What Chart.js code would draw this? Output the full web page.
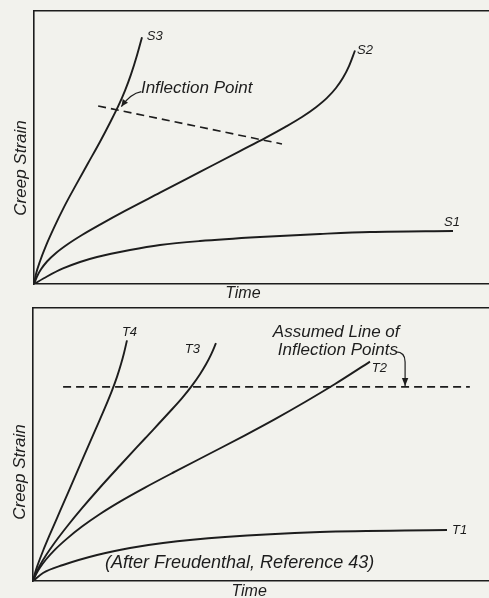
<!DOCTYPE html>
<html>
<head>
<meta charset="utf-8">
<script src="https://cdn.jsdelivr.net/npm/chart.js@4.4.1/dist/chart.umd.min.js"></script>
<style>
  html, body { margin: 0; padding: 0; background: #f2f2ed; }
  body { width: 489px; height: 598px; position: relative; overflow: hidden; }
  canvas { position: absolute; left: 0; }
  #c1 { top: 0; }
  #c2 { top: 298px; }
</style>
</head>
<body>
<canvas id="c1" width="489" height="298"></canvas>
<canvas id="c2" width="489" height="300"></canvas>
<script>
// ---- Upper panel: creep curves at three stress levels ----
const S1_TIME   = [0, 2.86, 6.37, 10.11, 13.85, 21.10, 27.69, 36.48, 49.67, 62.86, 73.85, 92.09];
const S1_STRAIN = [0, 2.75, 5.68, 8.06, 9.89, 12.45, 14.29, 15.75, 17.22, 18.32, 19.05, 19.41];

const S2_TIME   = [0, 0.66, 1.54, 2.86, 4.84, 7.47, 10.55, 14.51, 20.00, 27.69, 36.48, 45.27,
                   50.77, 55.16, 58.90, 61.98, 64.40, 66.37, 67.91, 69.23, 70.55];
const S2_STRAIN = [0, 2.75, 5.38, 8.24, 11.36, 14.65, 17.95, 21.76, 26.78, 33.44, 41.06, 48.68,
                   53.44, 57.47, 61.17, 64.76, 68.17, 71.79, 75.53, 79.82, 85.53];

const S3_TIME   = [0, 0.44, 1.32, 2.64, 4.40, 6.59, 9.23, 11.87, 14.51, 16.70, 18.46, 20.00,
                   21.32, 22.64, 23.74];
const S3_STRAIN = [0, 3.66, 8.35, 14.07, 20.66, 28.17, 36.30, 44.21, 52.12, 59.08, 64.94, 70.84,
                   76.78, 83.81, 90.40];

// locus of inflection points (dashed)
const S_INFLECT_TIME   = [14.1, 54.5];
const S_INFLECT_STRAIN = [65.2, 51.3];

// ---- Lower panel: creep curves at four temperatures ----
const T1_TIME   = [0, 2.19, 6.58, 14.04, 21.27, 28.51, 42.11, 62.94, 90.79];
const T1_STRAIN = [0, 2.93, 5.86, 9.52, 12.09, 13.92, 16.12, 17.95, 18.68];

const T2_TIME   = [0, 0.66, 1.54, 2.85, 4.82, 7.46, 10.75, 14.69, 19.08, 24.56, 31.14, 38.82,
                   46.49, 53.07, 59.65, 66.23, 73.90];
const T2_STRAIN = [0, 2.42, 4.91, 7.88, 11.50, 15.53, 19.93, 24.54, 29.08, 34.21, 40.04, 46.70,
                   53.37, 59.30, 65.57, 72.16, 80.37];

const T3_TIME   = [0, 0.66, 1.54, 2.85, 4.82, 7.46, 10.75, 14.69, 19.08, 24.56, 30.04, 32.68,
                   34.87, 36.62, 37.94, 39.04, 40.13];
const T3_STRAIN = [0, 2.86, 5.79, 9.41, 14.18, 19.96, 26.67, 34.25, 42.31, 52.20, 62.09, 67.00,
                   71.58, 75.75, 79.38, 82.93, 87.14];

const T4_TIME   = [0, 0.44, 1.10, 2.19, 3.73, 5.92, 8.55, 11.18, 13.82, 15.79, 17.32, 18.42,
                   19.30, 19.96, 20.61];
const T4_STRAIN = [0, 2.93, 6.23, 10.99, 17.14, 25.57, 35.68, 45.79, 55.90, 63.48, 69.74, 74.76,
                   79.45, 83.52, 88.13];

// assumed line of inflection points (dashed)
const T_INFLECT_TIME   = [6.6, 95.8];
const T_INFLECT_STRAIN = [71.1, 71.1];

const INK = '#1d1d1d';
const FONT = '"Liberation Sans", Arial, sans-serif';

function pts(xs, ys) { return xs.map((x, i) => ({ x, y: ys[i] })); }

function curve(xs, ys) {
  return { data: pts(xs, ys), borderColor: INK, borderWidth: 1.9, pointRadius: 0,
           cubicInterpolationMode: 'monotone', fill: false };
}
function dashed(xs, ys) {
  return { data: pts(xs, ys), borderColor: INK, borderWidth: 1.6, pointRadius: 0,
           borderDash: [8, 5], tension: 0, fill: false };
}

function axis(pos) {
  const horiz = pos === 'top' || pos === 'bottom';
  return {
    type: 'linear', position: pos, min: 0, max: 100,
    ticks: { display: false }, grid: { display: false },
    border: { display: true, color: INK, width: 1.6 },
    afterFit(s) { if (horiz) s.height = 0; else s.width = 0; }
  };
}

// Draws the lettering and leader arrows; positions given in data units
const notesPlugin = {
  id: 'notes',
  afterDraw(chart, args, opts) {
    const { ctx, scales: { x, y }, chartArea } = chart;
    ctx.save();
    ctx.fillStyle = INK;
    ctx.strokeStyle = INK;
    ctx.textBaseline = 'middle';
    for (const n of opts.texts || []) {
      ctx.save();
      ctx.font = `italic ${n.size}px ${FONT}`;
      ctx.textAlign = n.align || 'left';
      const px = n.px !== undefined ? n.px : x.getPixelForValue(n.x);
      const py = n.py !== undefined ? chartArea.bottom + n.py : y.getPixelForValue(n.y);
      ctx.translate(px, py);
      if (n.rot) ctx.rotate(n.rot);
      ctx.fillText(n.text, 0, 0);
      ctx.restore();
    }
    for (const a of opts.arrows || []) {
      const P = a.path.map(p => [x.getPixelForValue(p[0]), y.getPixelForValue(p[1])]);
      ctx.lineWidth = 1.2;
      ctx.beginPath();
      ctx.moveTo(P[0][0], P[0][1]);
      if (a.curve) ctx.quadraticCurveTo(P[1][0], P[1][1], P[2][0], P[2][1]);
      else for (let i = 1; i < P.length; i++) ctx.lineTo(P[i][0], P[i][1]);
      ctx.stroke();
      if (!a.head) continue;
      // arrowhead at the last point
      const [tx, ty] = P[P.length - 1];
      const [bx, by] = P[P.length - 2];
      const ang = Math.atan2(ty - by, tx - bx);
      const L = a.head, W = 3.2;
      ctx.beginPath();
      ctx.moveTo(tx, ty);
      ctx.lineTo(tx - L * Math.cos(ang) + W * Math.sin(ang), ty - L * Math.sin(ang) - W * Math.cos(ang));
      ctx.lineTo(tx - L * Math.cos(ang) - W * Math.sin(ang), ty - L * Math.sin(ang) + W * Math.cos(ang));
      ctx.closePath();
      ctx.fill();
    }
    ctx.restore();
  }
};

function makeChart(id, datasets, padding, notes) {
  return new Chart(document.getElementById(id), {
    type: 'line',
    data: { datasets },
    options: {
      responsive: false, animation: false, maintainAspectRatio: false,
      layout: { padding },
      plugins: { legend: { display: false }, tooltip: { enabled: false }, notes },
      scales: { x: axis('bottom'), xTop: axis('top'), y: axis('left') }
    },
    plugins: [notesPlugin]
  });
}

makeChart('c1',
  [curve(S1_TIME, S1_STRAIN), curve(S2_TIME, S2_STRAIN), curve(S3_TIME, S3_STRAIN),
   dashed(S_INFLECT_TIME, S_INFLECT_STRAIN)],
  { left: 34, right: 0, top: 11, bottom: 14 },
  {
    texts: [
      { text: 'S3', x: 24.8, y: 90.8, size: 13 },
      { text: 'S2', x: 71.0, y: 85.7, size: 13 },
      { text: 'S1', x: 90.1, y: 22.7, size: 13 },
      { text: 'Inflection Point', x: 23.5, y: 71.8, size: 17 },
      { text: 'Time', x: 45.9, py: 10, size: 16, align: 'center' },
      { text: 'Creep Strain', px: 21, y: 42.5, size: 17, align: 'center', rot: -Math.PI / 2 }
    ],
    arrows: [
      { curve: true, path: [[23.6, 70.5], [21.2, 69.8], [19.2, 65.0]], head: 7 }
    ]
  });

makeChart('c2',
  [curve(T1_TIME, T1_STRAIN), curve(T2_TIME, T2_STRAIN), curve(T3_TIME, T3_STRAIN),
   curve(T4_TIME, T4_STRAIN), dashed(T_INFLECT_TIME, T_INFLECT_STRAIN)],
  { left: 33, right: 0, top: 10, bottom: 17 },
  {
    texts: [
      { text: 'T4', x: 19.5, y: 91.2, size: 13 },
      { text: 'T3', x: 33.3, y: 85.0, size: 13 },
      { text: 'T2', x: 74.3, y: 78.0, size: 13 },
      { text: 'T1', x: 91.9, y: 18.7, size: 13 },
      { text: 'Assumed Line of', x: 52.6, y: 91.2, size: 17 },
      { text: 'Inflection Points', x: 53.7, y: 84.6, size: 17 },
      { text: '(After Freudenthal, Reference 43)', x: 15.8, y: 6.6, size: 18 },
      { text: 'Time', x: 47.4, py: 11, size: 16, align: 'center' },
      { text: 'Creep Strain', px: 20, y: 39.9, size: 17, align: 'center', rot: -Math.PI / 2 }
    ],
    arrows: [
      { curve: true, path: [[79.6, 83.9], [81.6, 83.9], [81.6, 80.2]], head: 0 },
      { curve: false, path: [[81.6, 80.2], [81.6, 71.4]], head: 8 }
    ]
  });
</script>
</body>
</html>
